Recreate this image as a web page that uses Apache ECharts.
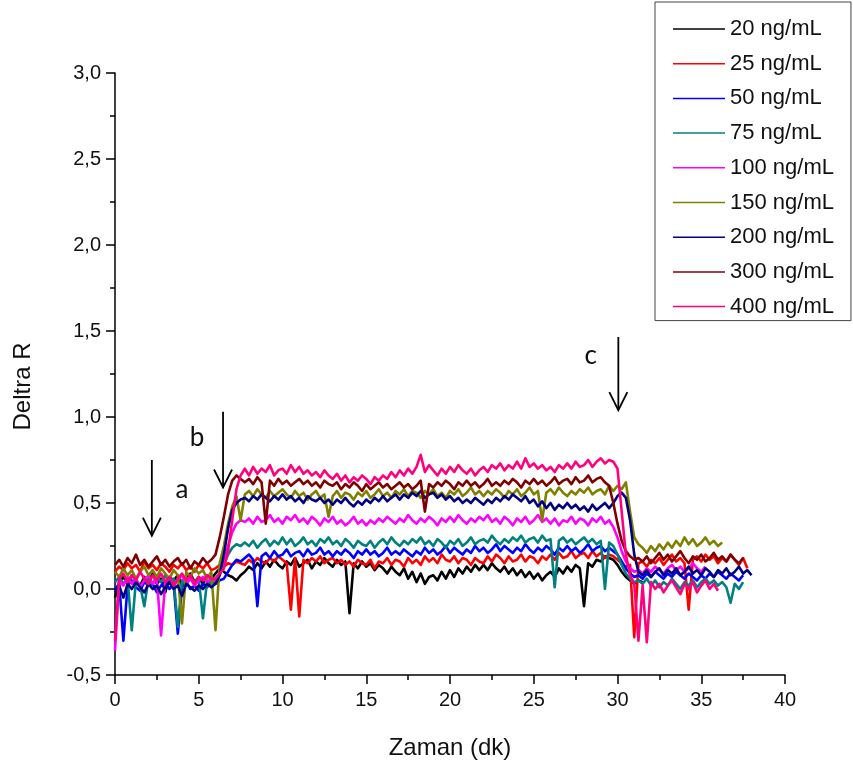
<!DOCTYPE html>
<html>
<head>
<meta charset="utf-8">
<script src="https://cdn.jsdelivr.net/npm/echarts@6/dist/echarts.min.js"></script>
<style>
html,body{margin:0;padding:0;background:#fff;}
#chart{width:853px;height:765px;}
</style>
</head>
<body>
<div id="chart"></div>
<script>
// ---- data (Deltra R vs Zaman, sampled every 0.25 dk) ----
const timeStep = 0.25;
const seriesNames = ['20 ng/mL','25 ng/mL','50 ng/mL','75 ng/mL','100 ng/mL','150 ng/mL','200 ng/mL','300 ng/mL','400 ng/mL'];
const seriesColors = ['#000000','#ff0000','#0000ff','#008080','#ff00ff','#808000','#000080','#800000','#ff0080'];
const xTicks = [0,5,10,15,20,25,30,35,40];
const yTickLabels = ['-0,5','0,0','0,5','1,0','1,5','2,0','2,5','3,0'];

const s20 = [
-0.05,0.04,0.07,0.03,0.08,0.05,0.02,0.07,0.04,0.09,0.03,0.06,-0.02,0.07,0.05,0.08,0.02,0.06,0.09,0.04,0.07,0.03,0.08,0.06,
0.09,0.12,0.1,0.08,0.07,0.05,0.08,
0.1,
0.13,0.11,0.15,0.12, 0.16,0.13,0.17,0.14, 0.12,0.16,0.14,0.18, 0.13,0.15,0.17,0.12,
0.16,0.14,0.18,0.15, 0.13,0.17,0.14,0.16, -0.14,0.15,0.12,0.16, 0.13,0.15,0.11,0.14,
0.12,0.09,0.13,0.1, 0.08,0.12,0.06,0.1, 0.04,0.09,0.03,0.07, 0.08,0.05,0.1,0.06,
0.11,0.07,0.12,0.09, 0.13,0.1,0.14,0.11, 0.14,0.11,0.15,0.12, 0.1,0.13,0.09,0.12,
0.08,0.11,0.07,0.1, 0.06,0.09,0.05,0.08, 0.1,0.07,0.12,0.09, 0.13,0.1,0.14,0.12,
-0.1,0.15,0.13,0.17, 0.16,0.19,0.18,
0.17,0.14,0.1,0.07,0.05,0.03,0.05,
0.04
];
const s25 = [
0.1,0.13,0.11,0.15,0.12,0.14,0.1,0.16,0.12,0.14,0.11,0.15,0.13,0.1,0.14,0.12,0.15,0.11,0.13,0.1,0.14,0.12,0.15,0.11,
0.12,0.14,0.13,0.15,0.14,0.16,0.15,
0.14,
0.17,0.15,0.18,0.16, 0.15,0.18,0.16,0.19, 0.17,0.15,-0.12,0.18, -0.16,0.17,0.15,0.18,
0.16,0.19,0.15,0.17, 0.18,0.15,0.17,0.14, 0.16,0.13,0.17,0.15, 0.14,0.17,0.12,0.16,
0.15,0.18,0.14,0.17, 0.16,0.13,0.18,0.15, 0.17,0.14,0.19,0.16, 0.18,0.15,0.2,0.17,
0.16,0.19,0.15,0.18, 0.17,0.14,0.18,0.16, 0.15,0.19,0.16,0.2, 0.18,0.15,0.19,0.16,
0.17,0.2,0.16,0.19, 0.18,0.15,0.19,0.17, 0.2,0.17,0.21,0.18, 0.19,0.22,0.18,0.2,
0.21,0.18,0.22,0.19, 0.21,0.18,0.2,
0.19,0.17,0.15,0.13,0.14,-0.28,0.15,
0.16,0.13,0.17,0.15,0.18,0.14,0.17,0.2,0.16,0.18,
0.15,-0.12,0.17,0.19, 0.16,0.2,0.17,0.19, 0.15,0.18,0.16,0.2, 0.17,0.14,0.18,0.12
];
const s50 = [
0.0,0.03,-0.3,0.02,0.05,0.01,-0.01,0.04,0.02,0.03,-0.02,0.02,0.04,0.0,0.03,-0.26,0.01,0.04,0.0,0.02,-0.01,0.03,0.01,0.04,
0.03,0.05,0.06,0.1,0.14,0.17,0.16,
0.18,
0.2,0.17,-0.1,0.19, 0.21,0.18,0.22,0.19, 0.2,0.23,0.19,0.21, 0.22,0.19,0.23,0.2,
0.21,0.24,0.2,0.22, 0.19,0.22,0.2,0.23, 0.21,0.18,0.22,0.2, 0.23,0.2,0.22,0.19,
0.21,0.24,0.2,0.22, 0.2,0.23,0.21,0.19, 0.22,0.2,0.24,0.21, 0.23,0.2,0.22,0.25,
0.21,0.24,0.22,0.2, 0.23,0.21,0.25,0.22, 0.24,0.21,0.23,0.26, 0.22,0.25,0.23,0.21,
0.24,0.22,0.26,0.23, 0.21,0.24,0.22,0.25, 0.23,0.2,0.24,0.22, 0.25,0.22,0.24,0.21,
0.23,0.26,0.22,0.24, 0.25,0.22,0.24,
0.22,0.2,0.16,0.12,0.09,0.07,0.08,
0.06,0.09,0.07,0.1,0.08,0.06,0.09,0.07,0.1,0.08,0.06,0.09,0.07,0.05,0.08,0.06,0.09,0.07,0.1,0.08,0.06,0.09,0.07,0.05,0.08
];
const s75 = [
0.04,0.07,0.03,0.06,-0.24,0.05,0.02,-0.1,0.06,0.03,0.07,0.04,0.08,0.03,0.06,-0.22,0.05,0.02,0.07,0.04,0.06,-0.17,0.05,0.03,
0.06,0.09,0.14,0.2,0.24,0.26,0.25,
0.27,
0.25,0.28,0.24,0.27, 0.29,0.25,0.28,0.26, 0.3,0.26,0.29,0.25, 0.27,0.3,0.26,0.28,
0.25,0.29,0.27,0.3, 0.26,0.28,0.25,0.29, 0.27,0.24,0.28,0.26, 0.25,0.28,0.24,0.27,
0.29,0.26,0.3,0.27, 0.25,0.28,0.26,0.29, 0.27,0.3,0.26,0.28, 0.25,0.29,0.27,0.24,
0.28,0.26,0.29,0.25, 0.27,0.3,0.26,0.28, 0.29,0.27,0.31,0.28, 0.26,0.29,0.27,0.3,
0.28,0.31,0.27,0.29, 0.3,0.27,0.31,0.28, 0.29,0.01,0.28,0.3, 0.27,0.29,0.26,0.28,
0.3,0.27,0.29,0.26, 0.28,0.0,0.27,
0.25,0.2,0.14,0.09,0.06,0.04,0.05,
0.03,0.06,0.02,0.05,0.01,0.04,0.02,0.06,0.03,0.0,0.04,0.02,0.05,0.01,0.04,0.06,0.03,0.05,0.02,0.04,0.01,-0.08,0.03,0.0,0.04
];
const s100 = [
-0.36,0.05,0.02,0.07,0.03,0.06,0.01,0.05,0.08,0.03,0.06,-0.27,0.04,0.07,0.02,0.05,0.08,0.03,0.06,0.02,0.05,0.07,0.04,0.06,
0.05,0.08,0.15,0.25,0.33,0.38,0.4,
0.39,
0.41,0.38,0.42,0.39, 0.4,0.43,0.39,0.41, 0.38,0.42,0.4,0.43, 0.39,0.41,0.38,0.42,
0.4,0.37,0.41,0.39, 0.42,0.38,0.4,0.37, 0.39,0.42,0.38,0.4, 0.37,0.4,0.38,0.41,
0.39,0.42,0.4,0.38, 0.41,0.39,0.43,0.4, 0.38,0.41,0.39,0.42, 0.4,0.37,0.41,0.39,
0.42,0.39,0.43,0.4, 0.38,0.41,0.39,0.42, 0.4,0.43,0.39,0.41, 0.38,0.42,0.4,0.37,
0.41,0.39,0.42,0.38, 0.4,0.43,0.39,0.41, 0.38,0.41,0.37,0.4, 0.39,0.42,0.38,0.41,
0.4,0.37,0.41,0.39, 0.42,0.38,0.4,
0.36,0.3,0.22,0.16,0.12,0.1,0.11,
0.09,0.12,0.1,0.13,0.11,0.09,0.12,0.14,0.11,0.13,0.1,0.12,0.15,0.12,0.1,0.13
];
const s150 = [
0.1,0.07,0.12,0.08,0.11,0.06,0.1,0.13,0.08,0.11,0.07,0.12,0.09,0.06,0.11,0.08,-0.2,0.1,0.07,0.12,0.09,0.11,0.06,0.1,
-0.24,0.15,0.25,0.38,0.48,0.54,0.4,
0.55,
0.57,0.54,0.58,0.55, 0.53,0.57,0.54,0.56, 0.58,0.55,0.53,0.57, 0.54,0.56,0.52,0.55,
0.57,0.53,0.55,0.42, 0.54,0.57,0.53,0.56, 0.55,0.52,0.56,0.54, 0.57,0.53,0.55,0.58,
0.54,0.56,0.53,0.57, 0.55,0.58,0.54,0.57, 0.56,0.53,0.57,0.55, 0.58,0.54,0.56,0.53,
0.57,0.55,0.58,0.54, 0.56,0.59,0.55,0.57, 0.54,0.57,0.55,0.58, 0.56,0.53,0.57,0.55,
0.58,0.54,0.56,0.59, 0.55,0.57,0.4,0.56, 0.58,0.55,0.59,0.56, 0.54,0.57,0.55,0.58,
0.56,0.59,0.55,0.57, 0.58,0.55,0.6,
0.57,0.6,0.58,0.62,0.45,0.3,0.26,
0.24,0.21,0.25,0.22,0.26,0.23,0.27,0.24,0.28,0.25,0.3,0.26,0.29,0.25,0.27,0.3,0.26,0.28,0.25,0.27
];
const s200 = [
-0.02,0.02,-0.05,0.03,0.0,0.04,0.01,-0.02,0.03,0.0,0.02,-0.03,0.01,0.04,0.0,0.02,-0.04,0.03,0.01,-0.01,0.02,0.0,0.03,0.01,
0.03,0.08,0.2,0.35,0.46,0.5,0.52,
0.53,
0.51,0.54,0.52,0.55, 0.53,0.51,0.54,0.52, 0.55,0.52,0.54,0.51, 0.53,0.5,0.54,0.52,
0.51,0.53,0.5,0.52, 0.49,0.52,0.5,0.53, 0.5,0.48,0.51,0.49, 0.52,0.5,0.53,0.51,
0.54,0.51,0.53,0.55, 0.52,0.55,0.53,0.56, 0.54,0.57,0.53,0.55, 0.56,0.53,0.55,0.52,
0.54,0.51,0.53,0.5, 0.52,0.5,0.53,0.51, 0.49,0.52,0.5,0.53, 0.51,0.54,0.52,0.55,
0.53,0.51,0.54,0.5, 0.52,0.48,0.51,0.47, 0.5,0.46,0.49,0.47, 0.5,0.47,0.49,0.46,
0.48,0.45,0.49,0.46, 0.48,0.5,0.47,
0.5,0.54,0.56,0.53,0.4,0.2,0.1,
0.08,0.11,0.07,0.1,0.12,0.08,0.11,0.09,0.12,0.08,0.1,0.13,0.09,0.11,0.08,0.12,0.1,0.07,0.11,0.09,0.12,0.08,0.1,0.13,0.09,0.11,0.08
];
const s300 = [
0.14,0.17,0.13,0.18,0.15,0.2,0.14,0.17,0.13,0.16,0.19,0.14,0.17,0.13,0.16,0.18,0.14,0.17,0.12,0.16,0.14,0.18,0.15,0.17,
0.2,0.3,0.42,0.55,0.63,0.66,0.64,
0.62,
0.64,0.61,0.65,0.62, 0.38,0.63,0.6,0.64, 0.61,0.63,0.6,0.62, 0.64,0.61,0.63,0.6,
0.62,0.59,0.63,0.61, 0.6,0.62,0.58,0.61, 0.59,0.62,0.6,0.57, 0.61,0.58,0.6,0.62,
0.59,0.61,0.58,0.6, 0.62,0.59,0.61,0.58, 0.6,0.63,0.45,0.61, 0.59,0.62,0.6,0.63,
0.61,0.58,0.62,0.6, 0.63,0.6,0.62,0.59, 0.61,0.64,0.6,0.62, 0.6,0.63,0.61,0.64,
0.62,0.59,0.63,0.61, 0.64,0.61,0.63,0.6, 0.62,0.65,0.61,0.63, 0.64,0.61,0.65,0.62,
0.63,0.66,0.62,0.64, 0.65,0.62,0.6,
0.5,0.38,0.28,0.22,0.19,0.17,0.18,
0.16,0.19,0.15,0.18,0.21,0.17,0.2,0.16,0.19,0.22,0.18,0.15,0.19,0.17,0.2,0.16,0.18,0.21,0.17,0.19,0.16,0.2,0.17,0.15,0.18
];
const s400 = [
-0.3,0.06,0.09,0.04,0.08,0.05,0.1,0.06,0.03,0.08,0.05,0.09,0.04,0.07,0.02,0.06,0.09,0.05,0.08,0.03,0.07,0.05,0.08,0.06,
0.06,0.09,0.12,0.22,0.4,0.58,0.66,
0.7,
0.66,0.71,0.67,0.7, 0.68,0.72,0.66,0.69, 0.7,0.67,0.72,0.68, 0.71,0.67,0.69,0.66,
0.68,0.65,0.69,0.66, 0.64,0.67,0.63,0.66, 0.62,0.65,0.63,0.66, 0.64,0.61,0.65,0.63,
0.66,0.64,0.68,0.65, 0.69,0.66,0.7,0.67, 0.71,0.78,0.68,0.72, 0.69,0.66,0.7,0.67,
0.71,0.68,0.72,0.69, 0.67,0.7,0.66,0.69, 0.71,0.68,0.72,0.7, 0.73,0.69,0.72,0.7,
0.74,0.7,0.76,0.71, 0.73,0.7,0.72,0.69, 0.71,0.68,0.72,0.7, 0.73,0.7,0.74,0.71,
0.72,0.75,0.71,0.74, 0.76,0.73,0.75,
0.74,0.7,0.45,0.2,0.08,0.03,-0.3,
0.02,-0.31,0.04,0.0,0.03,-0.02,0.02,0.05,0.01,-0.03,0.03,0.0,0.04,-0.02,0.02,0.05,0.0,0.03,-0.01
];
const seriesValues = [s20,s25,s50,s75,s100,s150,s200,s300,s400];

// annotation arrows (data coordinates)
const arrowLabels = ['a','b','c'];
const arrowX = [2.2, 6.45, 30.05];
const arrowYTop = [0.75, 1.03, 1.465];
const arrowYTip = [0.31, 0.59, 1.04];
const labelX = [4.0, 4.9, 28.4];
const labelY = [0.575, 0.88, 1.355];

// ---- chart ----
const chart = echarts.init(document.getElementById('chart'), null, {renderer:'canvas'});
const FONT = '"Liberation Sans", Arial, sans-serif';

const series = seriesValues.map((vals, k) => ({
  name: seriesNames[k],
  type: 'line',
  data: vals.map((v, i) => [i * timeStep, v]),
  showSymbol: false,
  symbol: 'none',
  lineStyle: { width: 2.6, color: seriesColors[k], join: 'round' },
  itemStyle: { color: seriesColors[k] },
  animation: false,
  z: 2 + k
}));

const option = {
  animation: false,
  backgroundColor: '#ffffff',
  grid: { left: 115, right: 68, top: 73, bottom: 90, containLabel: false },
  legend: {
    orient: 'vertical',
    left: 655, top: 2,
    padding: [16, 17, 3, 18],
    borderColor: '#444', borderWidth: 1,
    backgroundColor: '#fff',
    icon: 'rect',
    itemWidth: 52, itemHeight: 1.5, itemGap: 12.7,
    textStyle: { fontFamily: FONT, fontSize: 22, color: '#111', lineHeight: 22 },
    data: seriesNames
  },
  xAxis: {
    type: 'value', min: 0, max: 40, interval: 5,
    name: 'Zaman (dk)', nameLocation: 'middle', nameGap: 61,
    nameTextStyle: { fontFamily: FONT, fontSize: 24, color: '#111' },
    axisLine: { show: true, onZero: false, lineStyle: { color: '#000', width: 1.5 } },
    axisTick: { show: true, inside: false, length: 9, lineStyle: { color: '#000', width: 1.5 } },
    minorTick: { show: true, splitNumber: 2, length: 5, lineStyle: { color: '#000', width: 1.5 } },
    splitLine: { show: false },
    axisLabel: { fontFamily: FONT, fontSize: 20, color: '#111', margin: 15,
      formatter: v => xTicks.includes(v) ? String(v) : '' }
  },
  yAxis: {
    type: 'value', min: -0.5, max: 3.0, interval: 0.5,
    name: 'Deltra R', nameLocation: 'middle', nameGap: 80, nameRotate: 90,
    nameTextStyle: { fontFamily: FONT, fontSize: 24, color: '#111', padding: [0, 25, 0, 0] },
    axisLine: { show: true, onZero: false, lineStyle: { color: '#000', width: 1.5 } },
    axisTick: { show: true, inside: false, length: 9, lineStyle: { color: '#000', width: 1.5 } },
    minorTick: { show: true, splitNumber: 2, length: 5, lineStyle: { color: '#000', width: 1.5 } },
    splitLine: { show: false },
    axisLabel: { fontFamily: FONT, fontSize: 20, color: '#111', margin: 14,
      formatter: v => yTickLabels[Math.round((v + 0.5) / 0.5)] }
  },
  series: series
};
chart.setOption(option);

// arrows and labels, positioned through the grid's coordinate system
const graphics = [];
arrowLabels.forEach((lab, k) => {
  const top = chart.convertToPixel({gridIndex: 0}, [arrowX[k], arrowYTop[k]]);
  const tip = chart.convertToPixel({gridIndex: 0}, [arrowX[k], arrowYTip[k]]);
  const lp = chart.convertToPixel({gridIndex: 0}, [labelX[k], labelY[k]]);
  graphics.push({ type: 'line', z: 100, shape: { x1: top[0], y1: top[1], x2: tip[0], y2: tip[1] },
    style: { stroke: '#000', lineWidth: 1.8 } });
  graphics.push({ type: 'polyline', z: 100,
    shape: { points: [[tip[0] - 9, tip[1] - 18], [tip[0], tip[1]], [tip[0] + 9, tip[1] - 18]] },
    style: { stroke: '#000', lineWidth: 1.8, fill: null } });
  graphics.push({ type: 'text', z: 100, x: lp[0], y: lp[1],
    style: { text: lab, font: '26px Lato, "Open Sans", sans-serif', fill: '#111', align: 'center', verticalAlign: 'middle' } });
});
chart.setOption({ graphic: graphics });
</script>
</body>
</html>
